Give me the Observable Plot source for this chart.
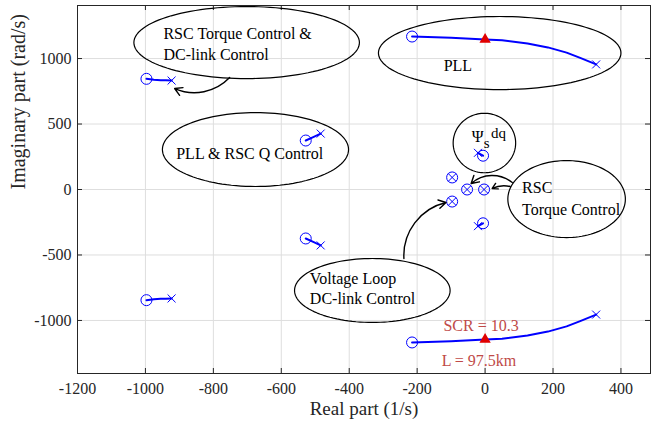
<!DOCTYPE html>
<html><head><meta charset="utf-8">
<script src="https://cdn.jsdelivr.net/npm/d3@7"></script>
<script src="https://cdn.jsdelivr.net/npm/@observablehq/plot@0.6"></script>
<style>body{margin:0;background:#fff} svg{display:block}</style>
</head><body><div id="chart"></div>
<script>
// ---- axes ----
const xTicks = [-1200, -1000, -800, -600, -400, -200, 0, 200, 400];
const yTicks = [-1000, -500, 0, 500, 1000];
const xLabel = "Real part (1/s)";
const yLabel = "Imaginary part (rad/s)";

// ---- root-locus branches (upper half; lower half = conjugate) ----
const pllBranch   = [[-215,1168],[-100,1158],[0,1145],[50,1140],[125,1115],[185,1085],[240,1045],[280,1005],[327,955]];
const rscDcBranch = [[-997,845],[-975,838],[-955,834],[-940,835],[-923,832]];
const pllQBranch  = [[-528,374],[-506,400],[-484,427]];
const psiBranch   = [[-6,258],[-21,280]];
const branchesUpper = [pllBranch, rscDcBranch, pllQBranch, psiBranch];

// coincident pole / zero pairs (circle with cross)
const coincident = [[-97,92],[-53,0],[-3,0],[-97,-92]];
// operating point (SCR = 10.3)
const opPoints = [[0,1145],[0,-1145]];

// ---- annotations ----
const ellipses = [ // cx, cy, rx, ry  (data units)
  {id:"rscdc", cx:-702, cy:1122, rx:332, ry:275},
  {id:"pll",   cx:43,   cy:1042, rx:357, ry:279},
  {id:"pllq",  cx:-676, cy:305,  rx:274, ry:282},
  {id:"psi",   cx:-2,   cy:355,  rx:92,  ry:227},
  {id:"rsc",   cx:240,  cy:-73,  rx:173, ry:294},
  {id:"volt",  cx:-332, cy:-771, rx:229, ry:244}
];
const labelsStart = [
  {x:-947, y:1191, t:"RSC Torque Control &"},
  {x:-947, y:1031, t:"DC-link Control"},
  {x:109,  y:15,   t:"RSC"},
  {x:109,  y:-153, t:"Torque Control"},
  {x:-516, y:-679, t:"Voltage Loop"},
  {x:-516, y:-832, t:"DC-link Control"}
];
const labelsMiddle = [
  {x:-80,  y:947, t:"PLL"},
  {x:-693, y:275, t:"PLL & RSC Q Control"}
];
const redLabels = [
  {x:-12, y:-1038, t:"SCR = 10.3"},
  {x:-18, y:-1305, t:"L = 97.5km"}
];
const psiAnchor = [{x:-22, y:401}];
const arrows = [
  {x1:-752, y1:855,  x2:-914, y2:771,  bend:35},
  {x1:-239, y1:-527, x2:-115, y2:-99,  bend:40},
  {x1:80,   y1:53,   x2:-41,  y2:46,   bend:-40},
  {x1:74,   y1:23,   x2:21,   y2:8,    bend:-20}
];

// ---- derived tables ----
const lines = [];
branchesUpper.forEach((b, i) => {
  b.forEach(([x, y]) => lines.push({id: "u" + i, x, y}));
  b.forEach(([x, y]) => lines.push({id: "l" + i, x, y: -y}));
});
const circles = [], crosses = [];
branchesUpper.forEach(b => {
  const s = b[0], e = b[b.length - 1];
  circles.push({x: s[0], y: s[1]}, {x: s[0], y: -s[1]});
  crosses.push({x: e[0], y: e[1]}, {x: e[0], y: -e[1]});
});
coincident.forEach(([x, y]) => { circles.push({x, y}); crosses.push({x, y}); });
const ellipsePts = [];
ellipses.forEach(e => {
  for (let k = 0; k <= 120; k++) {
    const a = 2 * Math.PI * k / 120;
    ellipsePts.push({id: e.id, x: e.cx + e.rx * Math.cos(a), y: e.cy + e.ry * Math.sin(a)});
  }
});

const W = 652, H = 426, mL = 77, mR = 2, mT = 5, mB = 53;
const innerW = W - mL - mR, innerH = H - mT - mB;
const serif = "Liberation Serif, Times New Roman, serif";

const chart = Plot.plot({
  width: W, height: H,
  marginLeft: mL, marginRight: mR, marginTop: mT, marginBottom: mB,
  style: {fontFamily: serif, fontSize: "16px", background: "white", color: "#262626"},
  x: {domain: [-1200, 487]},
  y: {domain: [-1405, 1405]},
  marks: [
    Plot.gridX(xTicks, {stroke: "#dedede", strokeOpacity: 1}),
    Plot.gridY(yTicks, {stroke: "#dedede", strokeOpacity: 1}),
    Plot.tickX(xTicks, {x: d => d, insetTop: innerH - 5, stroke: "#262626"}),
    Plot.tickX(xTicks, {x: d => d, insetBottom: innerH - 5, stroke: "#262626"}),
    Plot.tickY(yTicks, {y: d => d, insetRight: innerW - 5, stroke: "#262626"}),
    Plot.tickY(yTicks, {y: d => d, insetLeft: innerW - 5, stroke: "#262626"}),
    Plot.frame({stroke: "#262626"}),
    Plot.axisX(xTicks, {tickFormat: d => String(d), tickSize: 0, tickPadding: 9, label: null, fontSize: 16, fill: "#262626"}),
    Plot.axisY(yTicks, {tickFormat: d => String(d), tickSize: 0, tickPadding: 6, label: null, fontSize: 16, fill: "#262626"}),
    Plot.text([xLabel], {frameAnchor: "bottom", dy: 41, fontSize: 19, fill: "#262626"}),
    Plot.text([yLabel], {frameAnchor: "left", dx: -59, rotate: -90, fontSize: 20, fill: "#262626"}),
    // annotation ellipses
    Plot.line(ellipsePts, {x: "x", y: "y", z: "id", stroke: "black", strokeWidth: 1.2}),
    // root locus
    Plot.line(lines, {x: "x", y: "y", z: "id", stroke: "blue", strokeWidth: 2}),
    Plot.dot(circles, {x: "x", y: "y", r: 5.5, stroke: "blue", strokeWidth: 1}),
    Plot.dot(crosses, {x: "x", y: "y", r: 3.7, symbol: "times", stroke: "blue", strokeWidth: 1}),
    Plot.dot(opPoints, {x: d => d[0], y: d => d[1], r: 4.2, symbol: "triangle", fill: "#e00000", stroke: "none"}),
    // arrows
    ...arrows.map(a => Plot.arrow([a], {x1: "x1", y1: "y1", x2: "x2", y2: "y2", bend: a.bend, stroke: "black", strokeWidth: 1.4, headLength: 9})),
    // texts
    Plot.text(labelsStart, {x: "x", y: "y", text: "t", textAnchor: "start", fontSize: 16, fill: "black"}),
    Plot.text(labelsMiddle, {x: "x", y: "y", text: "t", fontSize: 16, fill: "black"}),
    Plot.text(redLabels, {x: "x", y: "y", text: "t", fontSize: 16, fill: "#c04a48"}),
    Plot.text(psiAnchor, {x: "x", y: "y", text: () => "Ψ", fontSize: 16, fill: "black"}),
    Plot.text(psiAnchor, {x: "x", y: "y", text: () => "s", dx: 9, dy: 6, fontSize: 15, fill: "black"}),
    Plot.text(psiAnchor, {x: "x", y: "y", text: () => "dq", dx: 21, dy: -4, fontSize: 15, fill: "black"})
  ]
});
document.getElementById("chart").appendChild(chart);
</script>
</body></html>
